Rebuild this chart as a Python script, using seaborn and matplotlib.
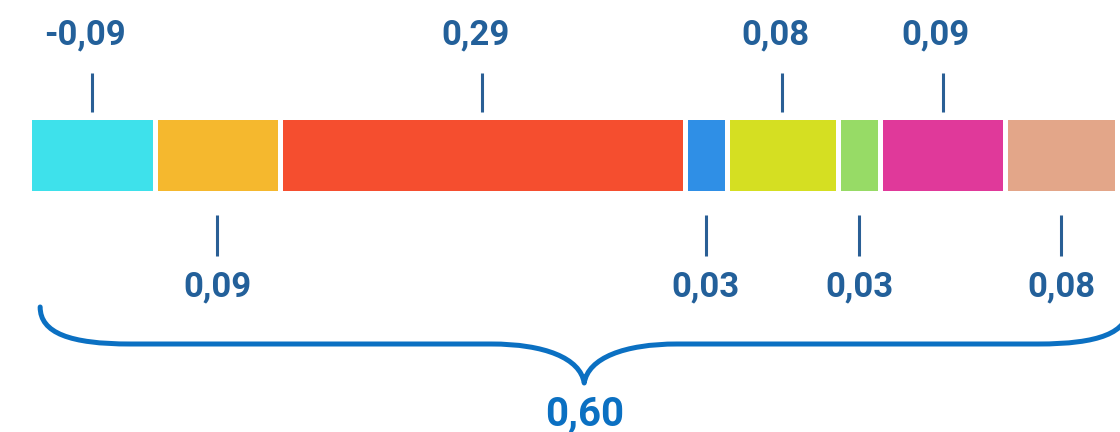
import matplotlib
matplotlib.use("Agg")
import matplotlib.pyplot as plt
from matplotlib.path import Path
from matplotlib.patches import PathPatch
import numpy as np
import seaborn as sns

# ---- data ----
values = [-0.09, 0.09, 0.29, 0.03, 0.08, 0.03, 0.09, 0.08]
colors = ["#3EE1EB", "#F5B82E", "#F54E2F", "#2F8FE6",
          "#D5DF22", "#97DB66", "#E0399A", "#E3A689"]
label_side = ["top", "bottom", "top", "bottom", "top", "bottom", "top", "bottom"]
total_label = "0,60"

sns.set_theme(style="white")
plt.rcParams['font.family'] = ['Roboto', 'DejaVu Sans']

W, H = 1120, 432
fig = plt.figure(figsize=(W / 100, H / 100), dpi=100)
ax = fig.add_axes([0, 0, 1, 1])

widths = np.abs(values)
ends = np.cumsum(widths)
starts = ends - widths
centers = (starts + ends) / 2

# draw stacked segments (right to left, layered) with seaborn
for i in reversed(range(len(values))):
    sns.barplot(x=[ends[i]], y=["total"], orient="y", color=colors[i],
                saturation=1, width=0.8, edgecolor="white", linewidth=3.6, ax=ax)

# pixel-like layout helpers
PXU = 1395.0          # pixels per value unit
X0 = 29.0             # pixel of value 0
YC, YU = 154.5, 95.0  # bar centre pixel, pixels per category unit
ax.set_xlim(-X0 / PXU, (W - X0) / PXU)
ax.set_ylim((H - YC) / YU, -YC / YU)
ax.set_axis_off()

def py(p):
    return (p - YC) / YU

label_color = "#23609A"
tick_color = "#2A5F95"
for v, c, side in zip(values, centers, label_side):
    txt = f"{v:.2f}".replace(".", ",")
    if side == "top":
        ax.plot([c, c], [py(73), py(112)], color=tick_color, lw=2.2, solid_capstyle="butt")
        ax.text(c - 0.005, py(44), txt, ha="center", va="baseline", fontsize=25,
                fontweight="bold", color=label_color)
    else:
        ax.plot([c, c], [py(215), py(256)], color=tick_color, lw=2.2, solid_capstyle="butt")
        ax.text(c, py(296), txt, ha="center", va="baseline", fontsize=25,
                fontweight="bold", color=label_color)

# curly brace under the whole bar
brace_color = "#0B70C2"
left = 0.008
right = ends[-1] + 0.008
mid = (left + right) / 2
d1 = 90 / PXU
d2 = 93 / PXU
ye, yh, yt = py(307), py(344), py(383)
verts = [
    (left, ye),
    (left, py(333)), (left + 30 / PXU, yh), (left + d1, yh),
    (mid - d2, yh),
    (mid - 40 / PXU, yh), (mid - 4 / PXU, py(358)), (mid, yt),
    (mid + 4 / PXU, py(358)), (mid + 40 / PXU, yh), (mid + d2, yh),
    (right - d1, yh),
    (right - 30 / PXU, yh), (right, py(333)), (right, ye),
]
codes = [Path.MOVETO,
         Path.CURVE4, Path.CURVE4, Path.CURVE4,
         Path.LINETO,
         Path.CURVE4, Path.CURVE4, Path.CURVE4,
         Path.CURVE4, Path.CURVE4, Path.CURVE4,
         Path.LINETO,
         Path.CURVE4, Path.CURVE4, Path.CURVE4]
ax.add_patch(PathPatch(Path(verts, codes), facecolor="none", edgecolor=brace_color,
                       lw=3.6, capstyle="round", joinstyle="round"))

ax.text(mid, py(426), total_label, ha="center", va="baseline", fontsize=29,
        fontweight="bold", color=brace_color)

fig.savefig("out.png", dpi=100, facecolor="white")
